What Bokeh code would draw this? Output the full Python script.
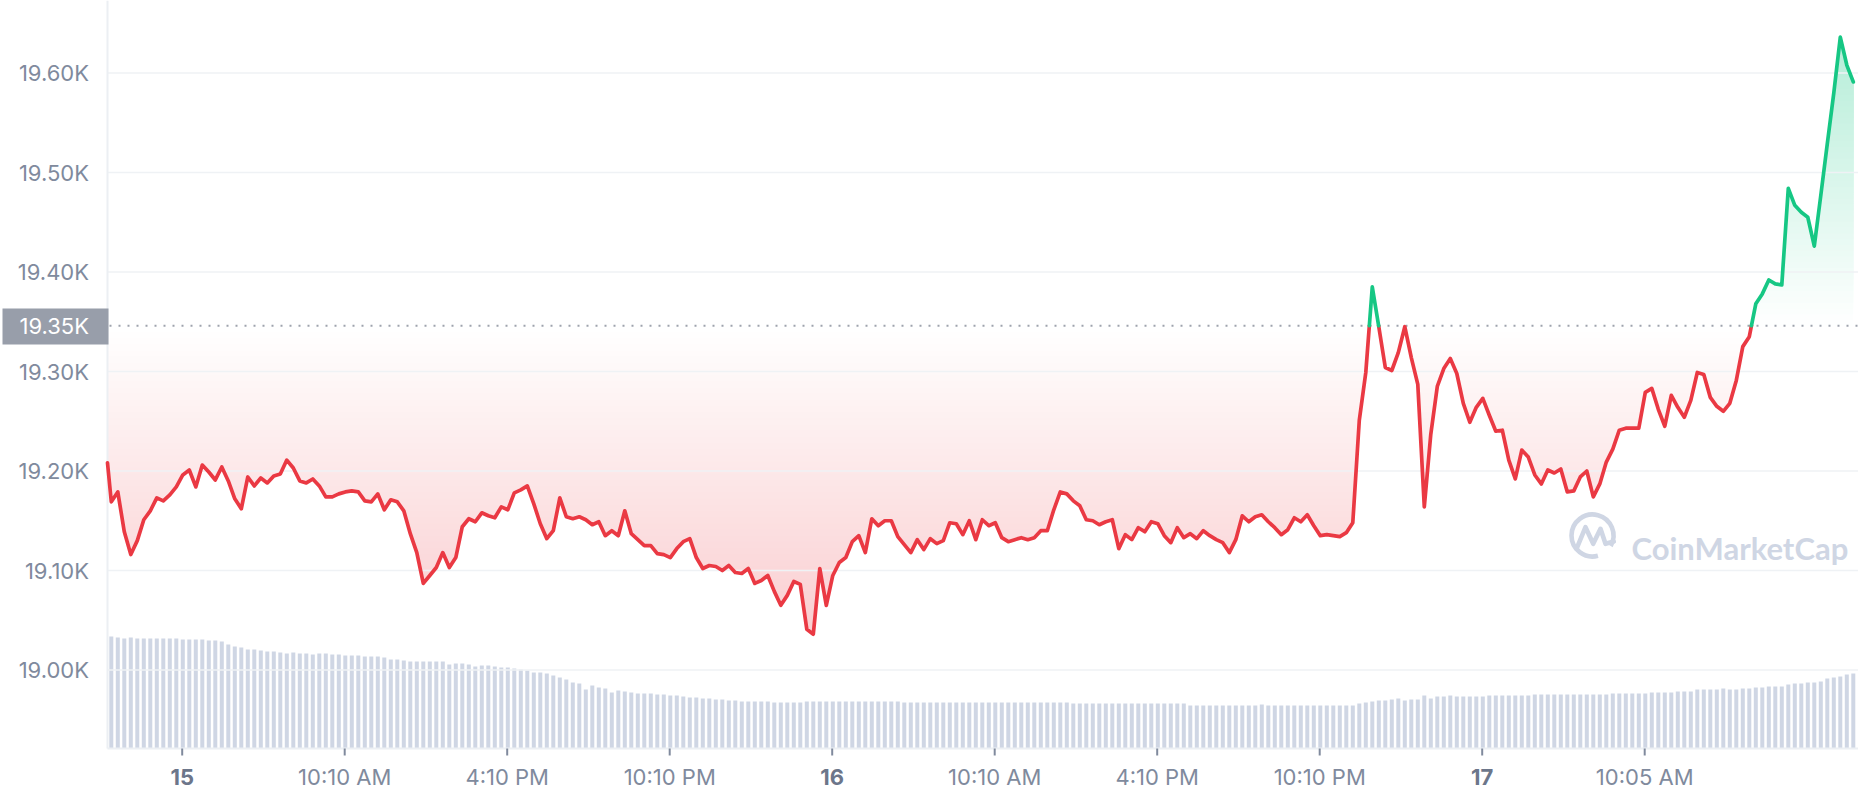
import numpy as np
from bokeh.plotting import figure
from bokeh.models import Range1d
from bokeh.core.properties import value
from bokeh.embed import file_html
from bokeh.resources import INLINE

# ---------------- data ----------------
# time axis in hours, measured from the start of day "15"
T0_HOURS = -2.858          # time of the first price sample
STEP_HOURS = 0.24          # sampling interval
BASELINE = 19346.0         # reference (opening) price, dotted line
BASELINE_LABEL = "19.35K"

PRICES = [
    19236, 19169, 19179, 19139, 19116, 19130, 19151, 19160, 19173, 19170,
    19176, 19184, 19196, 19201, 19184, 19206, 19199, 19191, 19204, 19190,
    19172, 19162, 19194, 19185, 19193, 19188, 19195, 19197, 19211, 19203,
    19190, 19188, 19192, 19185, 19174, 19174, 19177, 19179, 19180, 19179,
    19170, 19169, 19177, 19161, 19171, 19169, 19160, 19137, 19118, 19087,
    19095, 19103, 19118, 19103, 19113, 19144, 19152, 19149, 19158, 19155,
    19153, 19164, 19161, 19178, 19181, 19185, 19167, 19147, 19132, 19140,
    19173, 19154, 19152, 19154, 19151, 19146, 19149, 19135, 19140, 19135,
    19160, 19137, 19131, 19125, 19125, 19117, 19116, 19113, 19122, 19129,
    19132, 19113, 19102, 19105, 19104, 19100, 19105, 19098, 19097, 19102,
    19087, 19090, 19095, 19079, 19065, 19075, 19089, 19086, 19041, 19036,
    19102, 19065, 19095, 19108, 19113, 19129, 19135, 19118, 19152, 19145,
    19150, 19150, 19134, 19126, 19118, 19131, 19121, 19132, 19127, 19130,
    19148, 19147, 19136, 19150, 19131, 19151, 19145, 19148, 19133, 19129,
    19131, 19133, 19131, 19133, 19140, 19140, 19161, 19179, 19177, 19170,
    19165, 19151, 19150, 19146, 19149, 19151, 19122, 19136, 19131, 19143,
    19139, 19149, 19147, 19135, 19128, 19143, 19133, 19137, 19132, 19140,
    19135, 19131, 19128, 19118, 19131, 19155, 19149, 19154, 19156, 19149,
    19143, 19136, 19141, 19153, 19149, 19156, 19145, 19135, 19136, 19135,
    19134, 19138, 19148, 19251, 19299, 19385, 19345, 19304, 19301, 19319,
    19345, 19314, 19287, 19164, 19237, 19285, 19303, 19313, 19298, 19268,
    19249, 19264, 19273, 19256, 19240, 19241, 19211, 19192, 19221, 19214,
    19196, 19187, 19201, 19198, 19202, 19179, 19180, 19194, 19200, 19174,
    19187, 19209, 19222, 19241, 19243, 19243, 19243, 19279, 19283, 19262,
    19245, 19276, 19264, 19254, 19271, 19299, 19297, 19274, 19265, 19260,
    19268, 19291, 19325, 19335, 19368, 19378, 19392, 19388, 19387, 19484,
    19467, 19460, 19455, 19426, 19477, 19529, 19580, 19636, 19608, 19591,
]

# trading volume (billions), one bar per price sample after the first
VOLUMES = (
    [33.6, 33.3, 33.0, 33.3, 33.0, 33.0, 33.0, 33.0, 33.0, 33.0,
     33.0, 32.7, 32.7, 32.7, 32.7, 32.4, 32.4, 32.1, 31.2, 30.6,
     30.3, 29.7, 29.7, 29.4, 29.1, 29.1, 28.8, 28.5, 28.8, 28.5,
     28.5, 28.2, 28.5, 28.5, 28.2, 28.2, 27.9, 27.9, 27.9, 27.6,
     27.6, 27.6, 27.3, 26.7, 26.7,
     26.4, 26.1, 26.1, 26.1, 26.1, 26.1, 26.1, 25.2, 25.5, 25.5,
     25.2, 24.6, 24.9, 24.9, 24.6, 24.3, 24.3, 24.0, 23.7, 23.4,
     22.8, 22.8, 22.5, 21.9, 21.3, 20.7, 19.8, 19.5, 17.7, 18.9,
     18.3, 18.0, 16.8, 17.4, 17.1, 16.8, 16.5, 16.5, 16.5, 16.2,
     16.2, 15.9, 15.9, 15.6, 15.3, 15.3, 15.0, 15.0, 14.7, 14.7,
     14.4, 14.4, 14.1]
    + [14.1] * 4 + [13.8] * 5 + [14.1] * 15 + [13.8] * 26 + [13.5] * 18
    + [12.9] * 11 + [13.2] + [12.9] * 14
    + [13.5, 13.8, 14.1, 14.4, 14.4, 14.7, 15.0]
    + [14.4, 14.7, 14.7, 15.9, 15.0, 15.6, 15.6, 15.9]
    + [15.6] * 5 + [15.9] * 7 + [16.2] * 12 + [16.5] * 6 + [16.8] * 4
    + [17.1] * 3 + [17.7] * 4
    + [18.0, 17.7, 17.7, 18.0, 18.0, 18.3, 18.3, 18.6, 18.6, 18.6,
       19.2, 19.5, 19.5, 19.8, 19.8, 20.1, 21.0, 21.3, 21.6, 22.2, 22.5]
)

Y_TICKS = [19000, 19100, 19200, 19300, 19400, 19500, 19600]
Y_TICK_LABELS = ["19.00K", "19.10K", "19.20K", "19.30K", "19.40K", "19.50K", "19.60K"]
TIME_TICKS = [6, 12, 18, 30, 36, 42, 54]
TIME_LABELS = ["10:10 AM", "4:10 PM", "10:10 PM", "10:10 AM", "4:10 PM",
               "10:10 PM", "10:05 AM"]
DAY_TICKS = [0, 24, 48]
DAY_LABELS = ["15", "16", "17"]
WATERMARK = "CoinMarketCap"

RED = "#ea3943"
GREEN = "#16c784"
GREY_TXT = "#808a9d"
DAY_TXT = "#6c768a"
GRID = "#eff2f5"
FONT = "Inter"

# ---------------- layout (pixel geometry of the canvas) ----------------
W, H = 1858, 800
PX_PER_HOUR = 650 / 24.0          # one day = 650 px
X_ZERO_PX = 181.7                 # where day "15" starts
PX_PER_PRICE = 0.995              # px per USD
Y_REF_PX, Y_REF_PRICE = 669.5, 19000.0
PLOT_LEFT_PX, PLOT_BOTTOM_PX = 107, 748
VOL_PX_PER_UNIT = 740 / 222.0


def tx(px):
    return (px - X_ZERO_PX) / PX_PER_HOUR


def py(pix):
    return Y_REF_PRICE + (Y_REF_PX - pix) / PX_PER_PRICE


X_START, X_END = tx(0), tx(W)
Y_START, Y_END = py(H), py(0)
PLOT_T0 = tx(PLOT_LEFT_PX)
PLOT_P0 = py(PLOT_BOTTOM_PX)

p = figure(width=W, height=H, output_backend="svg", toolbar_location=None,
           x_range=Range1d(X_START, X_END), y_range=Range1d(Y_START, Y_END),
           x_axis_location=None, y_axis_location=None, min_border=0)
p.outline_line_color = None
p.background_fill_color = "white"
p.border_fill_color = "white"
for g in p.grid:
    g.visible = False

vol_lo = -(H - PLOT_BOTTOM_PX) / VOL_PX_PER_UNIT
p.extra_y_ranges = {"vol": Range1d(vol_lo, vol_lo + H / VOL_PX_PER_UNIT)}

# ---------------- derived series ----------------
prices = np.array(PRICES, dtype=float)
t_price = T0_HOURS + STEP_HOURS * np.arange(len(prices))
t_vol = T0_HOURS + STEP_HOURS * (1 + np.arange(len(VOLUMES)))

# clip the first segment at the plot's left edge
p_clip = np.interp(PLOT_T0, t_price, prices)
keep = t_price > PLOT_T0
tc = np.concatenate([[PLOT_T0], t_price[keep]])
pc = np.concatenate([[p_clip], prices[keep]])

# volume bars
p.vbar(x=t_vol, top=VOLUMES, bottom=0, width=0.148, y_range_name="vol",
       fill_color="#cfd6e4", line_color=None)

# dense copy of the line for the gradient fills
seg = 8
xd = [tc[0]]
for i in range(1, len(tc)):
    xd.extend(np.linspace(tc[i - 1], tc[i], seg + 1)[1:])
xd = np.array(xd)
yd = np.interp(xd, tc, pc)


def blend(hex_color, a):
    r, g, b = (int(hex_color[i:i + 2], 16) for i in (1, 3, 5))
    return "#%02x%02x%02x" % tuple(int(round(255 - (255 - c) * a)) for c in (r, g, b))


N = 50
red_levels = np.linspace(BASELINE, pc.min(), N + 1)[:-1]
for k, L in enumerate(red_levels):
    p.varea(x=xd, y1=np.minimum(yd, L), y2=np.full_like(yd, L),
            fill_color=blend(RED, 0.25 * (k + 0.5) / N))
green_levels = np.linspace(BASELINE, pc.max(), N + 1)[:-1]
for k, L in enumerate(green_levels):
    p.varea(x=xd, y1=np.full_like(yd, L), y2=np.maximum(yd, L),
            fill_color=blend(GREEN, 0.32 * (k + 0.5) / N))

# horizontal grid lines
p.segment(x0=PLOT_T0, x1=X_END, y0=Y_TICKS, y1=Y_TICKS, line_color=GRID, line_width=1.5)

# axis lines
p.segment(x0=[PLOT_T0, PLOT_T0], x1=[PLOT_T0, X_END], y0=[PLOT_P0, PLOT_P0],
          y1=[Y_END, PLOT_P0], line_color="#eceff3", line_width=2)

# x ticks
all_ticks = sorted(DAY_TICKS + TIME_TICKS)
p.segment(x0=all_ticks, x1=all_ticks, y0=PLOT_P0, y1=py(PLOT_BOTTOM_PX + 7),
          line_color=GREY_TXT, line_width=2)

# baseline dotted line
p.segment(x0=[tx(PLOT_LEFT_PX + 2)], x1=[X_END], y0=[BASELINE], y1=[BASELINE],
          line_color="#9ea3ad", line_width=2, line_dash="2 7")

# watermark
wm_x, wm_y = tx(1592), py(535)
p.arc(x=[wm_x], y=[wm_y], radius=21, radius_units="screen",
      start_angle=np.deg2rad(-30), end_angle=np.deg2rad(285),
      line_color="#cfd6e4", line_width=4.6)
m_px = [1576, 1585, 1592.7, 1600, 1605, 1613.3]
m_py = [548.3, 526.7, 543.3, 528.3, 543.3, 541.0]
p.line([tx(v) for v in m_px], [py(v) for v in m_py], line_color="#cfd6e4",
       line_width=4.6, line_join="round", line_cap="round")
p.text(x=[tx(1631)], y=[py(547.5)], text=[WATERMARK], text_font=value("Lato"),
       text_font_style="bold", text_font_size="31px", text_color="#cfd6e4",
       text_align="left", text_baseline="alphabetic")

# price line split at the baseline
xs, ys = [tc[0]], [pc[0]]
for i in range(1, len(pc)):
    y0, y1 = pc[i - 1], pc[i]
    if (y0 - BASELINE) * (y1 - BASELINE) < 0:
        f = (BASELINE - y0) / (y1 - y0)
        xs.append(tc[i - 1] + f * (tc[i] - tc[i - 1]))
        ys.append(BASELINE)
    xs.append(tc[i])
    ys.append(y1)
xs = np.array(xs)
ys = np.array(ys)
red_y = np.where(ys <= BASELINE + 1e-9, ys, np.nan)
green_y = np.where(ys >= BASELINE - 1e-9, ys, np.nan)
p.line(xs, red_y, line_color=RED, line_width=3.7, line_join="round", line_cap="round")
p.line(xs, green_y, line_color=GREEN, line_width=3.7, line_join="round", line_cap="round")

# y tick labels
LABEL_RIGHT = tx(88.5)
p.text(x=[LABEL_RIGHT] * len(Y_TICKS), y=Y_TICKS, text=Y_TICK_LABELS,
       text_font=value(FONT), text_font_size="22px", text_color=GREY_TXT,
       text_align="right", text_baseline="middle")

# baseline price tag
p.quad(left=[tx(2)], right=[tx(108)], top=[py(308)], bottom=[py(344)],
       fill_color="#989eaa", line_color=None)
p.text(x=[LABEL_RIGHT], y=[BASELINE], text=[BASELINE_LABEL], text_font=value(FONT),
       text_font_size="22px", text_color="white", text_align="right",
       text_baseline="middle")

# x tick labels
LABEL_Y = py(776)
p.text(x=TIME_TICKS, y=[LABEL_Y] * len(TIME_TICKS), text=TIME_LABELS,
       text_font=value(FONT), text_font_size="22px", text_color=GREY_TXT,
       text_align="center", text_baseline="middle")
p.text(x=DAY_TICKS, y=[LABEL_Y] * len(DAY_TICKS), text=DAY_LABELS,
       text_font=value(FONT), text_font_size="22px", text_font_style="bold",
       text_color=DAY_TXT, text_align="center", text_baseline="middle")

open("out.html", "w").write(file_html(p, INLINE))
